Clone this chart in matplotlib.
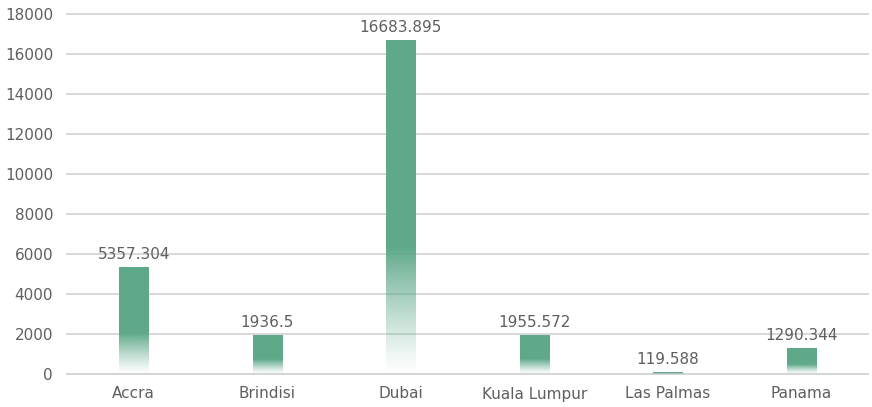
import numpy as np
import matplotlib.pyplot as plt
from matplotlib.colors import to_rgb

cities = ['Accra', 'Brindisi', 'Dubai', 'Kuala Lumpur', 'Las Palmas', 'Panama']
values = [5357.304, 1936.5, 16683.895, 1955.572, 119.588, 1290.344]
labels = ['5357.304', '1936.5', '16683.895', '1955.572', '119.588', '1290.344']
yticks = [0, 2000, 4000, 6000, 8000, 10000, 12000, 14000, 16000, 18000]

green = '#5fa98a'
text_col = '#5f5f5f'
grid_col = '#d6d6d6'

fig = plt.figure(figsize=(8.72, 4.07), dpi=100)
ax = fig.add_axes([67 / 872, 1 - 374 / 407, 801 / 872, 360 / 407])

x = np.arange(len(cities))
bars = ax.bar(x, values, width=0.22, color='none', zorder=3)

# vertical gradient: solid green on top, fading out over the lower third
t = np.linspace(0, 1, 256)
alpha = np.clip(t / 0.38, 0, 1) ** 1.2
grad = np.zeros((256, 1, 4))
grad[:, 0, :3] = to_rgb(green)
grad[:, 0, 3] = alpha
for b in bars:
    x0, w, h = b.get_x(), b.get_width(), b.get_height()
    im = ax.imshow(grad, origin='lower', aspect='auto',
                   extent=[x0, x0 + w, 0, h], zorder=3)
    im.set_clip_path(b)

for xi, v, lab in zip(x, values, labels):
    ax.text(xi, v + 250, lab, ha='center', va='bottom', fontsize=11, color=text_col, zorder=4)

ax.set_xlim(-0.5, len(cities) - 0.5)
ax.set_ylim(0, 18000)
ax.set_yticks(yticks)
ax.set_xticks(x)
ax.set_xticklabels(cities)
ax.grid(axis='y', color=grid_col, linewidth=1.3, zorder=0)
for gl in ax.get_ygridlines():
    gl.set_clip_on(False)
ax.set_axisbelow(True)
for s in ['top', 'right', 'left']:
    ax.spines[s].set_visible(False)
ax.spines['bottom'].set_color(grid_col)
ax.spines['bottom'].set_linewidth(1.3)
ax.tick_params(axis='both', length=0, labelsize=11, labelcolor=text_col)
ax.tick_params(axis='y', pad=10)
ax.tick_params(axis='x', pad=9)

fig.savefig('out.png', dpi=100)
